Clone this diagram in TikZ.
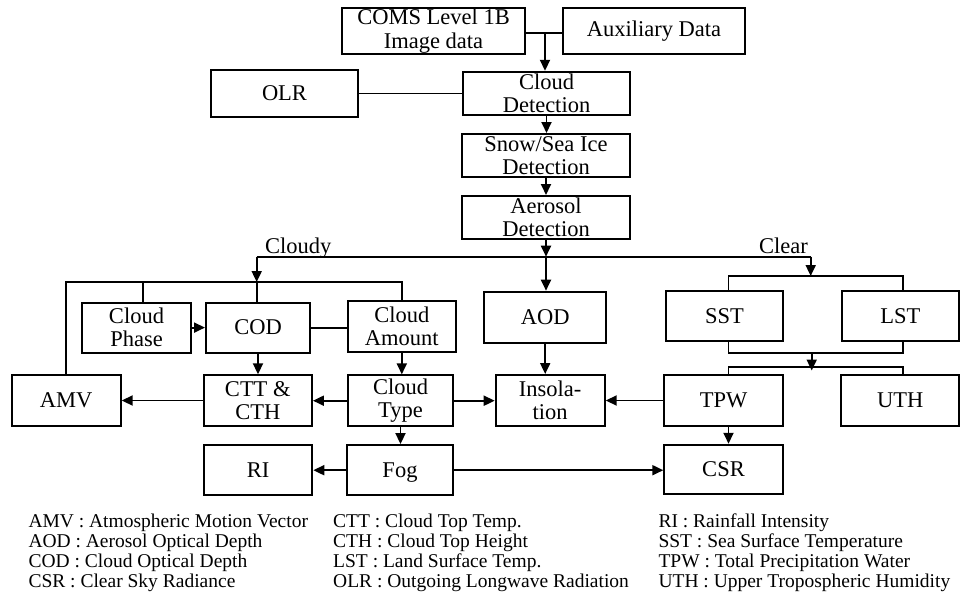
\documentclass[tikz,border=0pt]{standalone}
\usepackage{fontspec}
\setmainfont{Liberation Serif}
\usetikzlibrary{arrows.meta}
\newcommand{\bxfont}{\fontsize{22.5}{23.3}\selectfont}
\newcommand{\lgfont}{\fontsize{19.5}{20.3}\selectfont}
\begin{document}
\begin{tikzpicture}[x=1pt,y=-1pt,
  box/.style={draw, line width=2pt, inner sep=0pt, align=center, font=\bxfont},
  conn/.style={line width=1.9pt},
  arr/.style={line width=1.9pt, -{Triangle[length=11pt,width=10pt]}},
  thinline/.style={line width=1.1pt},
  lbl/.style={font=\bxfont, inner sep=0pt},
  leg/.style={font=\lgfont, inner sep=0pt, anchor=base west}]
\useasboundingbox (0,0) rectangle (960,594);
\fill[white] (0,0) rectangle (960,594);

% boxes
\node[box, minimum width=183pt, minimum height=46pt] (coms) at (433.5,31) {COMS Level 1B\\Image data};
\node[box, minimum width=182pt, minimum height=46pt] (aux) at (654,31) {Auxiliary Data};
\node[box, minimum width=147pt, minimum height=47pt] (olr) at (284.5,93.5) {OLR};
\node[box, minimum width=167pt, minimum height=43pt] (cd) at (546.5,93.3) {Cloud\\Detection};
\node[box, minimum width=168pt, minimum height=43pt] (snow) at (546,155.5) {Snow/Sea Ice\\Detection};
\node[box, minimum width=168pt, minimum height=43pt] (aer) at (546,217.5) {Aerosol\\Detection};

\node[box, minimum width=108.4pt, minimum height=50.2pt] (cp) at (136.5,327.6) {Cloud\\Phase};
\node[box, minimum width=104pt, minimum height=50pt] (cod) at (258,327.6) {COD};
\node[box, minimum width=108.3pt, minimum height=51pt] (ca) at (401.8,326.2) {Cloud\\Amount};
\node[box, minimum width=121.7pt, minimum height=51pt] (aod) at (545.2,317.2) {AOD};
\node[box, minimum width=117.6pt, minimum height=50.3pt] (sst) at (724.5,315.8) {SST};
\node[box, minimum width=117.3pt, minimum height=50.3pt] (lst) at (900.3,315.8) {LST};

\node[box, minimum width=109pt, minimum height=50.7pt] (amv) at (66.2,400.7) {AMV};
\node[box, minimum width=108.3pt, minimum height=50.4pt] (ctt) at (257.8,400.5) {CTT \&\\CTH};
\node[box, minimum width=105.6pt, minimum height=50.7pt] (ct) at (400.5,400.7) {Cloud\\Type};
\node[box, minimum width=109pt, minimum height=51pt] (ins) at (550.2,400.5) {Insola-\\tion};
\node[box, minimum width=118.4pt, minimum height=51pt] (tpw) at (723.5,400.5) {TPW};
\node[box, minimum width=118.3pt, minimum height=51pt] (uth) at (900.2,400.5) {UTH};

\node[box, minimum width=108.6pt, minimum height=50.3pt] (ri) at (258,470.2) {RI};
\node[box, minimum width=105.4pt, minimum height=50.3pt, text depth=0pt] (fog) at (400,470.2) {Fog};
\node[box, minimum width=118.4pt, minimum height=49.5pt] (csr) at (723.5,469.5) {CSR};

% labels
\node[lbl, anchor=base west] (cloudy) at (265,253.3) {Cloudy};
\node[lbl, anchor=base east] (clear) at (808,253.3) {Clear};

% top connectors
\coordinate (j0) at (545,33.3);
\draw[conn] (coms.east |- j0) -- (aux.west |- j0);
\draw[arr] (j0) -- (j0 |- cd.north);
\draw[thinline] (olr.east) -- (olr.east -| cd.west);
\draw[arr] (cd.south) -- (cd.south |- snow.north);
\draw[arr] (snow.south) -- (snow.south |- aer.north);

\coordinate (split) at (546,256.7);
\coordinate (cl) at (256.7,256.7);
\coordinate (cr) at (810.7,256.7);
\draw[conn] (cl) -- (cr);
\draw[arr] (aer.south) -- (split);
\draw[arr] (split) -- (split |- aod.north);

% cloudy branch
\coordinate (cb) at (256.7,282);
\coordinate (cpb) at (143.3,282);
\draw[conn] (amv.north) |- (cb) -| (ca.north);
\draw[conn] (cb) -- (cb |- cod.north);
\draw[conn] (cpb) -- (cpb |- cp.north);
\draw[arr] (cl) -- (cb);

% clear branch
\coordinate (clb) at (810.7,276);
\coordinate (sxb) at (728.5,276);
\coordinate (lxb) at (903.3,276);
\draw[conn] (sxb |- sst.north) -- (sxb) -- (lxb) -- (lxb |- lst.north);
\draw[arr] (cr) -- (clb);

\coordinate (sbot) at (728.5,353.3);
\coordinate (lbot) at (903.3,353.3);
\coordinate (mid) at (811.7,353.3);
\coordinate (midt) at (811.7,370.5);
\coordinate (tb) at (728.5,366.7);
\coordinate (ub) at (903.3,366.7);
\draw[conn] (sbot |- sst.south) -- (sbot) -- (lbot) -- (lbot |- lst.south);
\draw[conn] (tb |- tpw.north) -- (tb) -- (ub) -- (ub |- uth.north);
\draw[arr] (mid) -- (midt);

% row connectors
\draw[arr] (cp.east) -- (cp.east -| cod.west);
\draw[conn] (cod.east) -- (cod.east -| ca.west);
\draw[arr] (cod.south) -- (cod.south |- ctt.north);
\draw[arr] (ca.south) -- (ca.south |- ct.north);
\draw[arr] (aod.south) -- (aod.south |- ins.north);
\draw[arr] (ctt.west) -- (ctt.west -| amv.east);
\draw[arr] (ct.west) -- (ct.west -| ctt.east);
\draw[arr] (ct.east) -- (ct.east -| ins.west);
\draw[arr] (tpw.west) -- (tpw.west -| ins.east);
\draw[arr] (ct.south) -- (ct.south |- fog.north);
\draw[arr] (tb |- tpw.south) -- (tb |- csr.north);
\draw[arr] (fog.west) -- (fog.west -| ri.east);
\draw[arr] (fog.east) -- (fog.east -| csr.west);

% legend
\node[leg] (l1) at (28.3,527) {AMV : Atmospheric Motion Vector};
\node[leg] (l2) at (28.3,547.3) {AOD : Aerosol Optical Depth};
\node[leg] (l3) at (28.3,567.6) {COD : Cloud Optical Depth};
\node[leg] (l4) at (28.3,587.9) {CSR : Clear Sky Radiance};
\node[leg] (l5) at (333,527) {CTT : Cloud Top Temp.};
\node[leg] (l6) at (333,547.3) {CTH : Cloud Top Height};
\node[leg] (l7) at (333,567.6) {LST : Land Surface Temp.};
\node[leg] (l8) at (333,587.9) {OLR : Outgoing Longwave Radiation};
\node[leg] (l9) at (658.3,527) {RI : Rainfall Intensity};
\node[leg] (l10) at (658.3,547.3) {SST : Sea Surface Temperature};
\node[leg] (l11) at (658.3,567.6) {TPW : Total Precipitation Water};
\node[leg] (l12) at (658.3,587.9) {UTH : Upper Tropospheric Humidity};
\end{tikzpicture}
\end{document}
